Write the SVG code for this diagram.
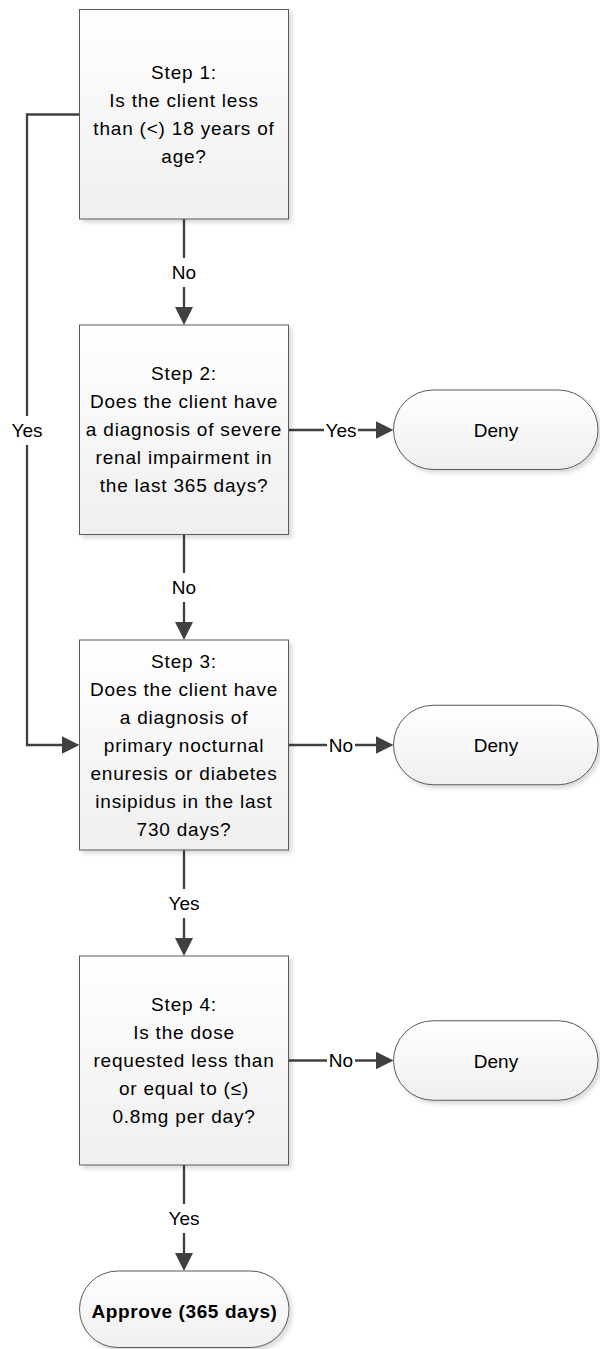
<svg xmlns="http://www.w3.org/2000/svg" width="600" height="1349" viewBox="0 0 600 1349">
  <defs>
    <linearGradient id="gBox" x1="0" y1="0" x2="0" y2="1">
      <stop offset="0" stop-color="#ffffff"/>
      <stop offset="1" stop-color="#efefef"/>
    </linearGradient>
    <filter id="shadow" x="-10%" y="-10%" width="125%" height="125%">
      <feDropShadow dx="3" dy="3" stdDeviation="2" flood-color="#000000" flood-opacity="0.15"/>
    </filter>
    <marker id="arrow" markerUnits="userSpaceOnUse" markerWidth="18" markerHeight="18" viewBox="0 0 18 18" refX="8" refY="9" orient="auto">
      <path d="M0,0 L18,9 L0,18 z" fill="#404040"/>
    </marker>
    <style>
      .box { fill: url(#gBox); stroke: #5a5a5a; stroke-width: 1; filter: url(#shadow); }
      .txt { font-family: "Liberation Sans", Arial, sans-serif; font-size: 19px; fill: #000000; text-anchor: middle; letter-spacing: 0.8px; }
      .bold { font-weight: bold; letter-spacing: 0.6px; }
      .lbl { font-family: "Liberation Sans", Arial, sans-serif; font-size: 19px; fill: #000000; text-anchor: middle; }
      .conn { fill: none; stroke: #404040; stroke-width: 2.3; }
      .lblbg { fill: #ffffff; }
    </style>
  </defs>
  <rect x="0" y="0" width="600" height="1349" fill="#ffffff"/>

  <g id="connectors">
    <path class="conn" d="M184,219 V315" marker-end="url(#arrow)"/>
    <path class="conn" d="M184,534.5 V630" marker-end="url(#arrow)"/>
    <path class="conn" d="M184,850 V946" marker-end="url(#arrow)"/>
    <path class="conn" d="M184,1165 V1261" marker-end="url(#arrow)"/>
    <path class="conn" d="M79.5,114.5 H27 V745 H69.5" marker-end="url(#arrow)"/>
    <path class="conn" d="M288.5,430 H383.5" marker-end="url(#arrow)"/>
    <path class="conn" d="M288.5,745 H383.5" marker-end="url(#arrow)"/>
    <path class="conn" d="M288.5,1060.5 H383.5" marker-end="url(#arrow)"/>

    <rect class="lblbg" x="169" y="258" width="30" height="29"/>
    <text class="lbl" x="184" y="279">No</text>
    <rect class="lblbg" x="169" y="573" width="30" height="29"/>
    <text class="lbl" x="184" y="594">No</text>
    <rect class="lblbg" x="166" y="889" width="36" height="29"/>
    <text class="lbl" x="184" y="910">Yes</text>
    <rect class="lblbg" x="166" y="1204" width="36" height="29"/>
    <text class="lbl" x="184" y="1225">Yes</text>
    <rect class="lblbg" x="9" y="416" width="36" height="29"/>
    <text class="lbl" x="27" y="437">Yes</text>
    <rect class="lblbg" x="324" y="420" width="34" height="20"/>
    <text class="lbl" x="341" y="437">Yes</text>
    <rect class="lblbg" x="327" y="735" width="28" height="20"/>
    <text class="lbl" x="341" y="752">No</text>
    <rect class="lblbg" x="327" y="1050" width="28" height="20"/>
    <text class="lbl" x="341" y="1067">No</text>
  </g>

  <g id="step1">
    <rect class="box" x="79.5" y="9.5" width="209" height="209.5"/>
    <text class="txt" x="184" y="79">Step 1:</text>
    <text class="txt" x="184" y="107">Is the client less</text>
    <text class="txt" x="184" y="135">than (&lt;) 18 years of</text>
    <text class="txt" x="184" y="163">age?</text>
  </g>

  <g id="step2">
    <rect class="box" x="79.5" y="325" width="209" height="209.5"/>
    <text class="txt" x="184" y="380">Step 2:</text>
    <text class="txt" x="184" y="408">Does the client have</text>
    <text class="txt" x="184" y="436">a diagnosis of severe</text>
    <text class="txt" x="184" y="464">renal impairment in</text>
    <text class="txt" x="184" y="492">the last 365 days?</text>
  </g>

  <g id="step3">
    <rect class="box" x="79.5" y="640" width="209" height="210"/>
    <text class="txt" x="184" y="667.5">Step 3:</text>
    <text class="txt" x="184" y="695.5">Does the client have</text>
    <text class="txt" x="184" y="723.5">a diagnosis of</text>
    <text class="txt" x="184" y="751.5">primary nocturnal</text>
    <text class="txt" x="184" y="779.5">enuresis or diabetes</text>
    <text class="txt" x="184" y="807.5">insipidus in the last</text>
    <text class="txt" x="184" y="835.5">730 days?</text>
  </g>

  <g id="step4">
    <rect class="box" x="79.5" y="956" width="209" height="209"/>
    <text class="txt" x="184" y="1011">Step 4:</text>
    <text class="txt" x="184" y="1039">Is the dose</text>
    <text class="txt" x="184" y="1067">requested less than</text>
    <text class="txt" x="184" y="1095">or equal to (≤)</text>
    <text class="txt" x="184" y="1123">0.8mg per day?</text>
  </g>

  <g id="deny1">
    <rect class="box" x="393.5" y="390" width="204.5" height="79.5" rx="39.75" ry="39.75"/>
    <text class="lbl" x="496" y="437">Deny</text>
  </g>

  <g id="deny2">
    <rect class="box" x="393.5" y="705.25" width="204.5" height="79.5" rx="39.75" ry="39.75"/>
    <text class="lbl" x="496" y="752">Deny</text>
  </g>

  <g id="deny3">
    <rect class="box" x="393.5" y="1020.75" width="204.5" height="79.5" rx="39.75" ry="39.75"/>
    <text class="lbl" x="496" y="1067.5">Deny</text>
  </g>

  <g id="approve">
    <rect class="box" x="79.5" y="1271" width="209.5" height="76.5" rx="38.25" ry="38.25"/>
    <text class="txt bold" x="184.5" y="1318">Approve (365 days)</text>
  </g>
</svg>
